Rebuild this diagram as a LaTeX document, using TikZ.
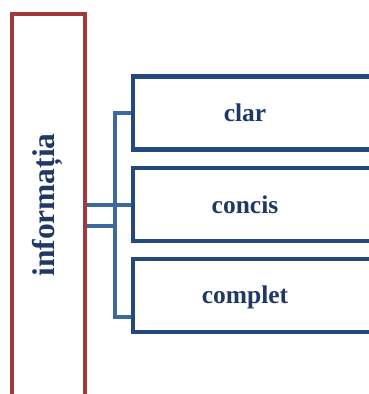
\documentclass[tikz,border=0pt]{standalone}
\usepackage{fontspec}
\setmainfont{Liberation Serif}
\definecolor{redline}{HTML}{A13B3B}
\definecolor{boxblue}{HTML}{24497C}
\definecolor{brkblue}{HTML}{3E68A0}
\definecolor{txtblue}{HTML}{1F3864}
\begin{document}
\begin{tikzpicture}[x=1pt,y=-1pt,
  redbox/.style={draw=redline,line width=4pt,rectangle,inner sep=0pt,minimum width=73pt,minimum height=420pt},
  bluebox/.style={draw=boxblue,line width=4.5pt,rectangle,inner sep=0pt,minimum width=247pt,minimum height=73pt,fill=white},
  lbl/.style={text=txtblue,font=\bfseries\fontsize{25.5}{28}\selectfont,inner sep=0pt},
  brk/.style={draw=brkblue,line width=4pt}]
\useasboundingbox (0,0) rectangle (369,394);
\clip (0,0) rectangle (369,394);
\fill[white] (0,0) rectangle (369,394);
% left box
\node[redbox] (info) at (48.5,224) {};
\node[text=txtblue,font=\bfseries\fontsize{31.5}{34}\selectfont,rotate=90,inner sep=0pt] (infot) at (47.5,205) {informația};
% right boxes
\coordinate (j) at (115,226);
\coordinate (bb) at (115,317);
\node[bluebox,draw=none,fill=none] (b1) at (256.5,112.75) {};
\node[bluebox,draw=none,fill=none] (b2) at (256.5,204.5) {};
\node[bluebox,draw=none,fill=none] (b3) at (256.5,295.25) {};
\draw[brk] (b1.west) -- (b1.west -| j) -- (bb) -- (bb -| b3.west);
\draw[brk] (info.east |- b2.west) -- (b2.west);
\draw[brk] (info.east |- j) -- (j);
\node[bluebox] at (b1) {};
\node[bluebox] at (b2) {};
\node[bluebox] at (b3) {};
\node[redbox] at (info) {};
\node[lbl] (t1) at (245,113) {clar};
\node[lbl] (t2) at (245,205) {concis};
\node[lbl] (t3) at (245,297) {complet};
\end{tikzpicture}
\end{document}
